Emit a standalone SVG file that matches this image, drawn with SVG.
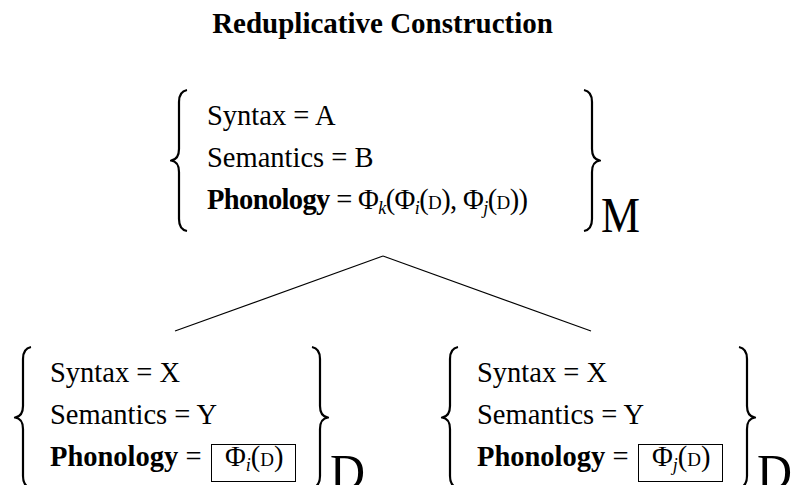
<svg xmlns="http://www.w3.org/2000/svg" width="792" height="485" viewBox="0 0 792 485">
<style>
text { font-family: "Liberation Serif", Tinos, "Times New Roman", "DejaVu Serif", serif; fill: #000; }
.t { font-size: 28.5px; }
.b { font-weight: bold; }
.title { font-size: 29px; font-weight: bold; }
.sub { font-size: 18px; font-style: italic; }
.sc { font-size: 19px; }
.big { font-size: 50px; }
.brace { fill: none; stroke: #000; stroke-width: 2.2; stroke-linejoin: round; }
.box { fill: none; stroke: #000; stroke-width: 1; }
.edge { fill: none; stroke: #000; stroke-width: 1.2; }
</style>
<defs>
<path id="lb" class="brace" d="M16,0 Q8,1.5 8,12 L8,59 Q8,69.5 0,70.5 Q8,71.5 8,82 L8,129 Q8,139.5 16,141"/>
<path id="rb" class="brace" d="M0,0 Q8,1.5 8,12 L8,59 Q8,69.5 16,70.5 Q8,71.5 8,82 L8,129 Q8,139.5 0,141"/>
</defs>
<text class="title" x="382.5" y="33" text-anchor="middle">Reduplicative Construction</text>
<g id="connectors">
<line class="edge" x1="383" y1="256" x2="175" y2="331"/>
<line class="edge" x1="383" y1="256" x2="591" y2="331"/>
</g>
<g id="node-M">
<use href="#lb" x="171" y="90"/>
<text class="t" x="207" y="125">Syntax = A</text>
<text class="t" x="207" y="167">Semantics = B</text>
<text class="t" x="207" y="209" textLength="321" lengthAdjust="spacing"><tspan class="b">Phonology</tspan> = Φ<tspan class="sub" dy="5">k</tspan><tspan dy="-5">(Φ</tspan><tspan class="sub" dy="5">i</tspan><tspan dy="-5">(</tspan><tspan class="sc">D</tspan>), Φ<tspan class="sub" dy="5">j</tspan><tspan dy="-5">(</tspan><tspan class="sc">D</tspan>))</text>
<use href="#rb" x="584" y="90"/>
<text class="big" x="601" y="232" textLength="39" lengthAdjust="spacingAndGlyphs">M</text>
</g>
<g id="node-D1">
<use href="#lb" x="15" y="347"/>
<text class="t" x="50" y="382">Syntax = X</text>
<text class="t" x="50" y="424">Semantics = Y</text>
<text class="t" x="50" y="466"><tspan class="b">Phonology</tspan> =</text>
<rect class="box" x="211.5" y="444.5" width="84" height="37"/>
<text class="t" x="225" y="466">Φ<tspan class="sub" dy="5">i</tspan><tspan dy="-5">(</tspan><tspan class="sc">D</tspan>)</text>
<use href="#rb" x="312" y="347"/>
<text class="big" x="330" y="489" textLength="35" lengthAdjust="spacingAndGlyphs">D</text>
</g>
<g id="node-D2">
<use href="#lb" x="442" y="347"/>
<text class="t" x="477" y="382">Syntax = X</text>
<text class="t" x="477" y="424">Semantics = Y</text>
<text class="t" x="477" y="466"><tspan class="b">Phonology</tspan> =</text>
<rect class="box" x="638.5" y="444.5" width="84" height="37"/>
<text class="t" x="652" y="466">Φ<tspan class="sub" dy="5">j</tspan><tspan dy="-5">(</tspan><tspan class="sc">D</tspan>)</text>
<use href="#rb" x="739" y="347"/>
<text class="big" x="757" y="489" textLength="35" lengthAdjust="spacingAndGlyphs">D</text>
</g>
</svg>
